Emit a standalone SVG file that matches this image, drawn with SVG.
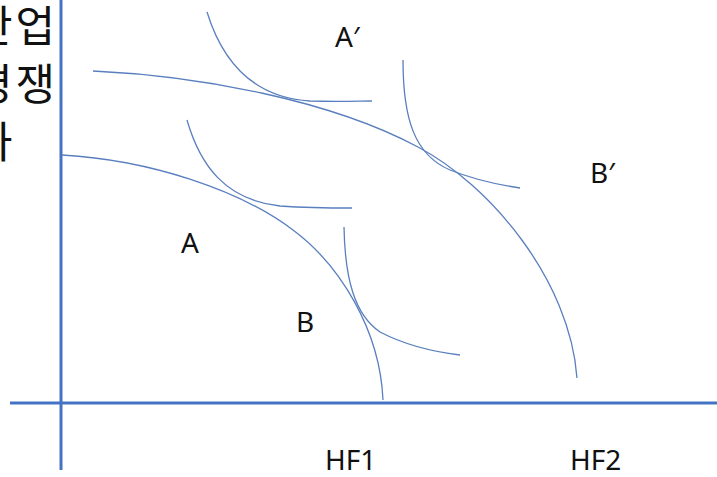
<svg xmlns="http://www.w3.org/2000/svg" width="717" height="477" viewBox="0 0 717 477">
<style>
.axis{stroke:#4472C4;stroke-width:3;fill:none}
.curve{stroke:#5A7FBE;stroke-width:1.3;fill:none}
.lbl{font-family:"Noto Sans","Liberation Sans",sans-serif;font-size:28px;fill:#111}
.kr{font-family:"Noto Sans CJK KR","Noto Sans",sans-serif;font-size:43px;fill:#111;letter-spacing:3px}
</style>
<rect width="717" height="477" fill="#fff"/>
<g id="ylabel">
<text class="kr" x="-27" y="42">산업</text>
<text class="kr" x="-27" y="100">경쟁</text>
<text class="kr" x="-27" y="158">가</text>
</g>
<g id="connectors">
<line class="axis" x1="61" y1="0" x2="61" y2="470"/>
<line class="axis" x1="10" y1="403" x2="717" y2="403"/>
<path id="ppf-inner" class="curve" d="M62,155 C150,160 240,190 293,230 C340,265 380,330 383,400"/>
<path id="ppf-outer" class="curve" d="M93,71 C200,76 330,100 418,147 C490,185 570,280 577,378"/>
<path id="ic-A2" class="curve" d="M207,12 C225,70 260,98 310,101 C340,102 360,101 372,101"/>
<path id="ic-A" class="curve" d="M187,120 C200,165 225,200 280,206 C310,208 335,208 352,208"/>
<path id="ic-B2" class="curve" d="M403,60 C403,120 415,155 450,170 C475,180 500,185 520,188"/>
<path id="ic-B" class="curve" d="M344,227 C345,280 355,315 380,332 C405,345 435,352 460,355"/>
</g>
<g id="A"><text class="lbl" x="181" y="253">A</text></g>
<g id="B"><text class="lbl" x="296" y="332">B</text></g>
<g id="A-prime"><text class="lbl" x="335" y="47">A′</text></g>
<g id="B-prime"><text class="lbl" x="590" y="183">B′</text></g>
<g id="HF1"><text class="lbl" x="325" y="470">HF1</text></g>
<g id="HF2"><text class="lbl" x="570" y="470">HF2</text></g>
</svg>
